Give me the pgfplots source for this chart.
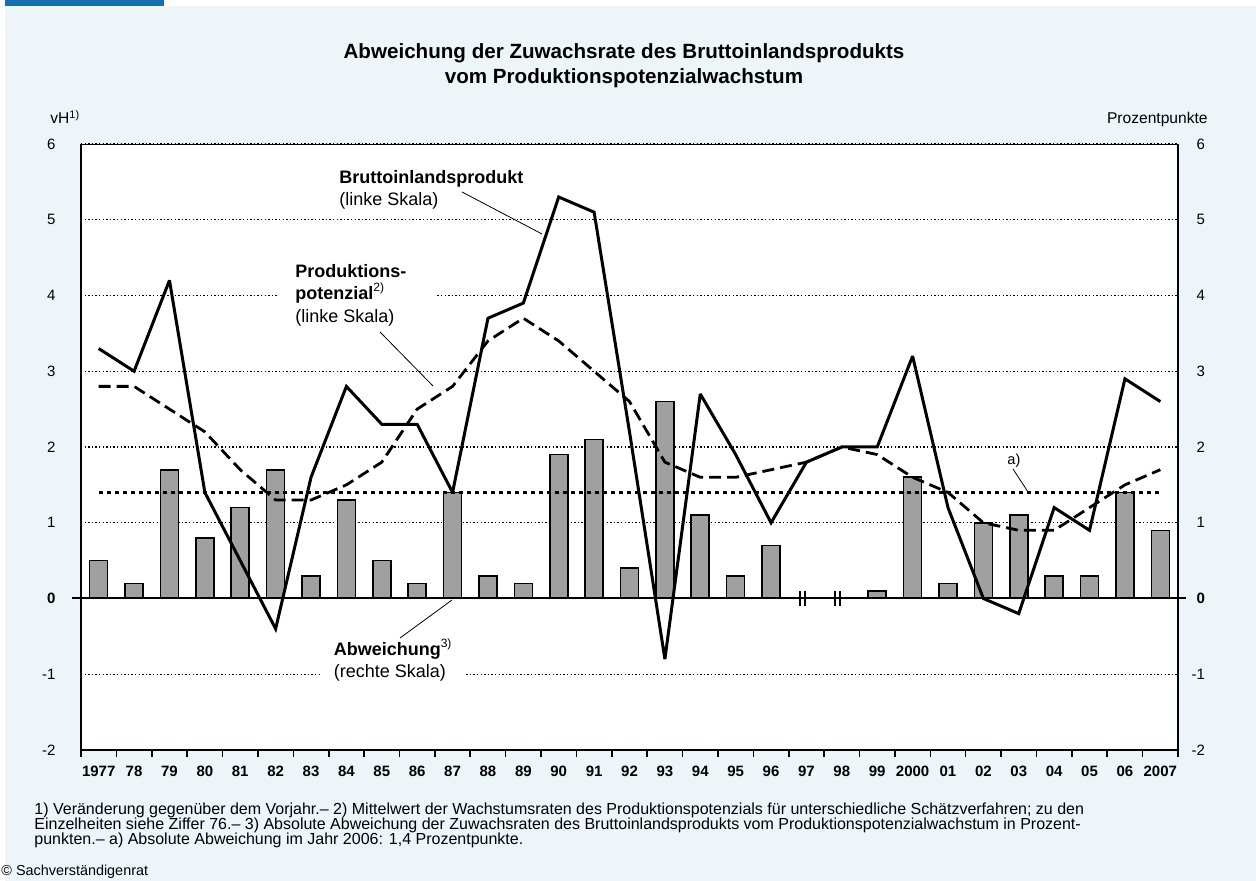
\documentclass[border=0pt]{standalone}
\usepackage{pgfplots}
\pgfplotsset{compat=1.18}
\usepackage{fontspec}
\setmainfont{Liberation Sans}
\definecolor{bgblue}{RGB}{237,245,249}
\definecolor{topblue}{RGB}{22,112,176}
\definecolor{barg}{RGB}{160,160,160}
\pgfdeclareplotmark{dbar}{%
  \pgfpathmoveto{\pgfqpoint{-1.3pt}{-3.7pt}}\pgfpathlineto{\pgfqpoint{-1.3pt}{3.7pt}}%
  \pgfpathmoveto{\pgfqpoint{1.3pt}{-3.7pt}}\pgfpathlineto{\pgfqpoint{1.3pt}{3.7pt}}%
  \pgfusepathqstroke}
\begin{document}
\begin{tikzpicture}[x=1pt,y=1pt]
\path[use as bounding box] (0,0) rectangle (628,440.5);
\fill[white] (0,0) rectangle (628,440.5);
\fill[bgblue] (2.5,0) rectangle (628,437.5);
\fill[topblue] (2.5,437.5) rectangle (82,440.5);
\begin{axis}[at={(40.5pt,65.5pt)}, anchor=south west, scale only axis,
  width=548.5pt, height=303pt,
  xmin=-0.5, xmax=30.5, ymin=-2, ymax=6, clip=false,
  axis x line*=bottom, axis y line*=left,
  axis line style={line width=1pt, black},
  axis background/.style={fill=white},
  xtick={0,...,30},
  xticklabels={1977,78,79,80,81,82,83,84,85,86,87,88,89,90,91,92,93,94,95,96,97,98,99,2000,01,02,03,04,05,06,2007},
  major x tick style={draw=none},
  minor xtick={-0.5,0.5,...,30.5}, minor tick length=3.5pt,
  minor x tick style={black, line width=0.8pt}, tick align=outside,
  ytick={-2,...,6}, yticklabels={-2,-1,\textbf{0},1,2,3,4,5,6},
  major y tick style={draw=none},
  ymajorgrids, grid style={black, line width=0.6pt, dash pattern=on 0.7pt off 1.1pt},
  xticklabel style={font=\fontsize{7.5}{9}\selectfont\bfseries, inner xsep=0pt},
  yticklabel style={font=\fontsize{7.5}{9}\selectfont, xshift=-5pt},
]
\addplot[ybar, bar width=9pt, fill=barg, draw=black, line width=0.8pt] coordinates {
(0,0.5)(1,0.2)(2,1.7)(3,0.8)(4,1.2)(5,1.7)(6,0.3)(7,1.3)(8,0.5)(9,0.2)(10,1.4)
(11,0.3)(12,0.2)(13,1.9)(14,2.1)(15,0.4)(16,2.6)(17,1.1)(18,0.3)(19,0.7)
(22,0.1)(23,1.6)(24,0.2)(25,1.0)(26,1.1)(27,0.3)(28,0.3)(29,1.4)(30,0.9)};
\draw[black, line width=1pt] ([xshift=-4.5pt]axis cs:-0.5,0) -- ([xshift=4pt]axis cs:30.5,0);
\addplot[black, line width=1.5pt, dash pattern=on 2.2pt off 1.8pt] coordinates {(0,1.4)(30,1.4)};
\addplot[black, line width=1.4pt, dash pattern=on 6pt off 3pt, line join=round] coordinates {
(0,2.8)(1,2.8)(2,2.5)(3,2.2)(4,1.7)(5,1.3)(6,1.3)(7,1.5)(8,1.8)(9,2.5)(10,2.8)
(11,3.4)(12,3.7)(13,3.4)(14,3.0)(15,2.6)(16,1.8)(17,1.6)(18,1.6)(19,1.7)(20,1.8)
(21,2.0)(22,1.9)(23,1.6)(24,1.4)(25,1.0)(26,0.9)(27,0.9)(28,1.2)(29,1.5)(30,1.7)};
\addplot[black, line width=1.5pt, line join=miter, miter limit=3] coordinates {
(0,3.3)(1,3.0)(2,4.2)(3,1.4)(4,0.5)(5,-0.4)(6,1.6)(7,2.8)(8,2.3)(9,2.3)(10,1.4)
(11,3.7)(12,3.9)(13,5.3)(14,5.1)(15,2.2)(16,-0.8)(17,2.7)(18,1.9)(19,1.0)(20,1.8)
(21,2.0)(22,2.0)(23,3.2)(24,1.2)(25,0.0)(26,-0.2)(27,1.2)(28,0.9)(29,2.9)(30,2.6)};
\addplot[only marks, mark=dbar, mark options={line width=1pt}] coordinates {(19.88,0)(20.88,0)};
\end{axis}
\begin{axis}[at={(40.5pt,65.5pt)}, anchor=south west, scale only axis,
  width=548.5pt, height=303pt,
  xmin=-0.5, xmax=30.5, ymin=-2, ymax=6,
  axis x line*=top, axis y line*=right,
  x axis line style={line width=0.5pt, black},
  y axis line style={line width=1pt, black},
  xtick=\empty,
  ytick={-2,...,6}, yticklabels={-2,-1,\textbf{0},1,2,3,4,5,6},
  major y tick style={draw=none},
  yticklabel style={font=\fontsize{7.5}{9}\selectfont, anchor=east, xshift=17pt},
]
\end{axis}
% titles
\node[anchor=base, inner sep=0, font=\fontsize{10.3}{12}\selectfont\bfseries] at (312,411) {Abweichung der Zuwachsrate des Bruttoinlandsprodukts};
\node[anchor=base, inner sep=0, font=\fontsize{10.3}{12}\selectfont\bfseries] at (312,398.9) {vom Produktionspotenzialwachstum};
\node[anchor=base west, inner sep=0, font=\fontsize{7.8}{9}\selectfont] at (25,378.5) {vH\textsuperscript{1)}};
\node[anchor=base east, inner sep=0, font=\fontsize{7.8}{9}\selectfont] at (604,378.8) {Prozentpunkte};
% annotations
\node[anchor=base west, inner sep=0, font=\fontsize{9}{11}\selectfont\bfseries] at (169.5,348.75) {Bruttoinlandsprodukt};
\node[anchor=base west, inner sep=0, font=\fontsize{9}{11}\selectfont] at (169.5,337.75) {(linke Skala)};
\draw[line width=0.4pt] (231,344.5) -- (271,323.5);
\fill[white] (139,291) rectangle (217.5,294.5);
\node[anchor=base west, inner sep=0, font=\fontsize{9}{11}\selectfont\bfseries] at (147.5,301.5) {Produktions-};
\node[anchor=base west, inner sep=0, font=\fontsize{9}{11}\selectfont\bfseries] at (147.5,290.75) {potenzial\textsuperscript{\mdseries 2)}};
\node[anchor=base west, inner sep=0, font=\fontsize{9}{11}\selectfont] at (147.5,279.2) {(linke Skala)};
\draw[line width=0.4pt] (190,274.5) -- (216.5,247.5);
\fill[white] (160,102) rectangle (232.5,105);
\node[anchor=base west, inner sep=0, font=\fontsize{9}{11}\selectfont\bfseries] at (166.7,112.7) {Abweichung\textsuperscript{\mdseries 3)}};
\node[anchor=base west, inner sep=0, font=\fontsize{9}{11}\selectfont] at (166.7,101.8) {(rechte Skala)};
\draw[line width=0.4pt] (200,121.5) -- (226,140.5);
\node[anchor=base west, inner sep=0, font=\fontsize{7.3}{9}\selectfont] at (503.5,208) {a)};
\draw[line width=0.4pt] (506.5,206) -- (514,194.5);
% footnotes
\node[anchor=base west, inner sep=0, font=\fontsize{8}{9}\selectfont] at (17,33) {1) Veränderung gegenüber dem Vorjahr.– 2) Mittelwert der Wachstumsraten des Produktionspotenzials für unterschiedliche Schätzverfahren; zu den};
\node[anchor=base west, inner sep=0, font=\fontsize{8}{9}\selectfont] at (17,25.5) {Einzelheiten siehe Ziffer 76.– 3) Absolute Abweichung der Zuwachsraten des Bruttoinlandsprodukts vom Produktionspotenzialwachstum in Prozent-};
\node[anchor=base west, inner sep=0, font=\fontsize{8}{9}\selectfont] at (17,18) {punkten.– a) Absolute Abweichung im Jahr 2006: 1,4 Prozentpunkte.};
\node[anchor=base west, inner sep=0, font=\fontsize{7.2}{8}\selectfont] at (0.5,2.5) {© Sachverständigenrat};
\end{tikzpicture}
\end{document}
